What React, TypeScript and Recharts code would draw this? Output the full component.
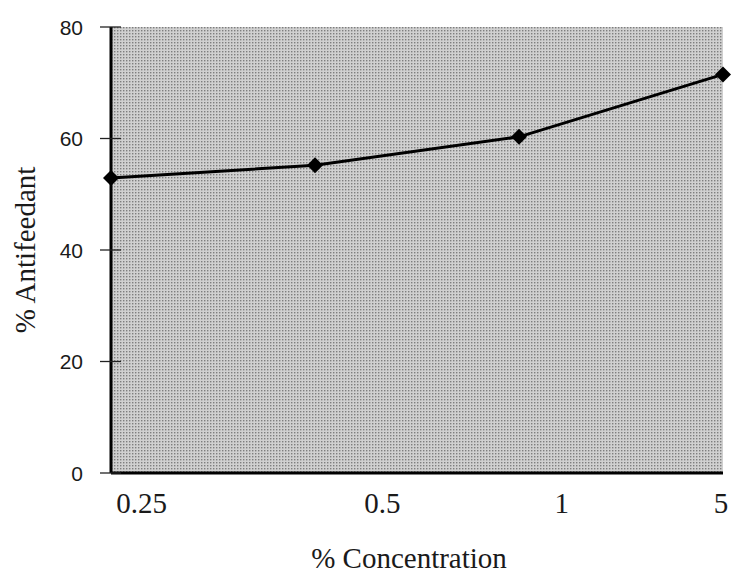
import { LineChart, Line, XAxis, YAxis, CartesianGrid } from 'recharts';

// concentrations (category order) and % antifeedant values
const concentrations = ['0.25', '0.5', '1', '5'];
const antifeedant = [52.9, 55.2, 60.3, 71.5];

// x tick labels sit a little off the points in the original scan
const xTickLabels = ['0.25', '0.5', '1', '5'];
const xTickPositions = [0.15, 1.33, 2.21, 2.99];
const yTicks = [0, 20, 40, 60, 80];

const data = concentrations.map((c, i) => ({ conc: c, idx: i, value: antifeedant[i] }));

const serif = '"Liberation Serif", "Times New Roman", serif';
const sans = '"Liberation Sans", Arial, sans-serif';

function YTick(props: Record<string, any>) {
  const { x, y, payload } = props;
  return (
    <g>
      <line x1={x - 11} x2={x + 10} y1={y} y2={y} stroke="#222" strokeWidth={1.3} />
      <text x={x - 28} y={y} dy="0.36em" textAnchor="end" fontFamily={sans} fontSize={21} fill="#1a1a1a">
        {payload.value}
      </text>
    </g>
  );
}

function XTick(props: Record<string, any>) {
  const { x, y, payload } = props;
  const i = xTickPositions.indexOf(payload.value);
  return (
    <text x={x} y={y} dy="0.71em" textAnchor="middle" fontFamily={serif} fontSize={29} fill="#1a1a1a">
      {xTickLabels[i]}
    </text>
  );
}

function Diamond(props: Record<string, any>) {
  const { cx, cy } = props;
  const s = 8;
  return (
    <polygon
      points={`${cx},${cy - s} ${cx + s},${cy} ${cx},${cy + s} ${cx - s},${cy}`}
      fill="#000"
    />
  );
}

export default function App() {
  return (
    <div style={{ position: 'absolute', left: 0, top: 0, background: '#fff' }}>
      <LineChart width={732} height={573} data={data} margin={{ top: 27, right: 9, bottom: 0, left: 0 }}>
        <defs>
          <pattern id="stipple" width="3" height="3" patternUnits="userSpaceOnUse">
            <rect width="3" height="3" fill="#d0d0d0" />
            <rect width="1.4" height="1.4" fill="#7e7e7e" />
          </pattern>
        </defs>
        <CartesianGrid horizontal={false} vertical={false} fill="url(#stipple)" />
        <XAxis
          xAxisId="top"
          orientation="top"
          dataKey="idx"
          type="number"
          domain={[0, 3]}
          height={0}
          tick={false}
          tickLine={false}
          axisLine={{ stroke: '#000', strokeWidth: 3 }}
        />
        <XAxis
          dataKey="idx"
          type="number"
          domain={[0, 3]}
          ticks={xTickPositions}
          interval={0}
          height={100}
          tickLine={false}
          tickSize={0}
          tickMargin={19}
          tick={<XTick />}
          axisLine={{ stroke: '#000', strokeWidth: 3 }}
          label={{ value: '% Concentration', position: 'insideBottom', offset: 5, dx: -8, fontFamily: serif, fontSize: 29, fill: '#1a1a1a' }}
        />
        <YAxis
          domain={[0, 80]}
          ticks={yTicks}
          width={111}
          tickLine={false}
          tickSize={0}
          tickMargin={0}
          tick={<YTick />}
          axisLine={{ stroke: '#000', strokeWidth: 3 }}
          label={{ value: '% Antifeedant', angle: -90, position: 'insideLeft', offset: 25, style: { textAnchor: 'middle' }, fontFamily: serif, fontSize: 29, fill: '#1a1a1a' }}
        />
        <YAxis
          yAxisId="right"
          orientation="right"
          width={0}
          tick={false}
          tickLine={false}
          axisLine={{ stroke: '#000', strokeWidth: 2.5 }}
        />
        <Line
          type="linear"
          dataKey="value"
          stroke="#000"
          strokeWidth={3}
          dot={<Diamond />}
          activeDot={false}
          isAnimationActive={false}
        />
      </LineChart>
    </div>
  );
}
